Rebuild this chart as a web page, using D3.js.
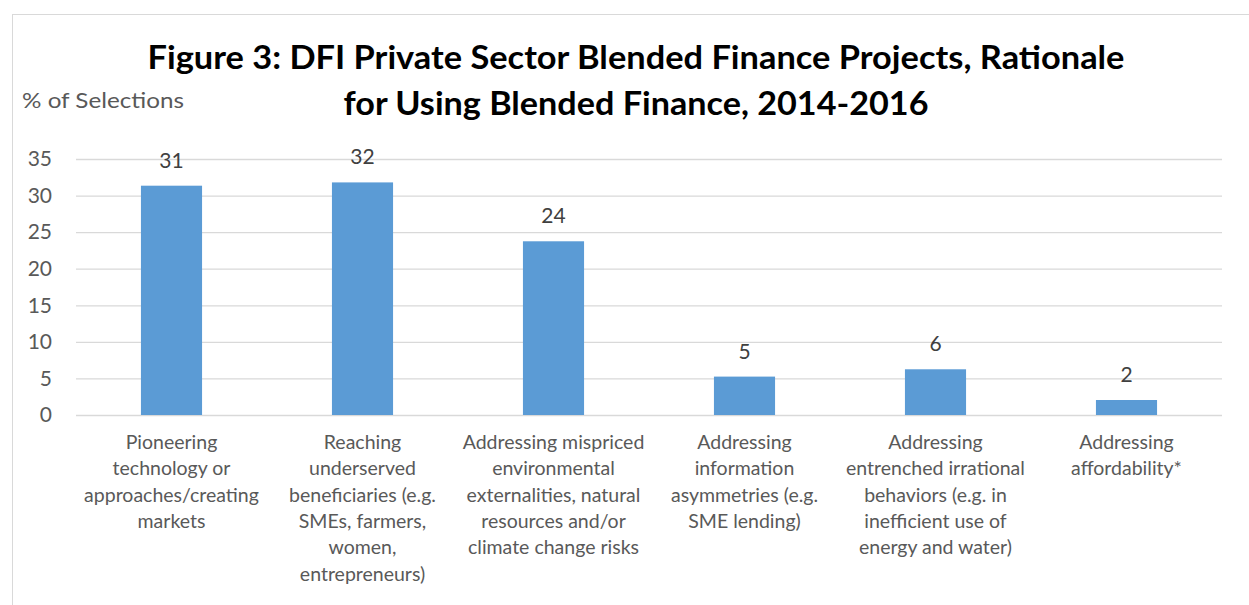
<!DOCTYPE html>
<html>
<head>
<meta charset="utf-8">
<script src="https://cdn.jsdelivr.net/npm/d3@7"></script>
<style>
  html, body { margin: 0; padding: 0; background: #fff; }
  svg { display: block; }
</style>
</head>
<body>
<svg id="chart" width="1249" height="605"></svg>
<script>
// ---- data ----
const categories = [
  "Pioneering technology or approaches/creating markets",
  "Reaching underserved beneficiaries (e.g. SMEs, farmers, women, entrepreneurs)",
  "Addressing mispriced environmental externalities, natural resources and/or climate change risks",
  "Addressing information asymmetries (e.g. SME lending)",
  "Addressing entrenched irrational behaviors (e.g. in inefficient use of energy and water)",
  "Addressing affordability*"
];
const categoryLines = [
  ["Pioneering", "technology or", "approaches/creating", "markets"],
  ["Reaching", "underserved", "beneficiaries (e.g.", "SMEs, farmers,", "women,", "entrepreneurs)"],
  ["Addressing mispriced", "environmental", "externalities, natural", "resources and/or", "climate change risks"],
  ["Addressing", "information", "asymmetries (e.g.", "SME lending)"],
  ["Addressing", "entrenched irrational", "behaviors (e.g. in", "inefficient use of", "energy and water)"],
  ["Addressing", "affordability*"]
];
const values = [31.35, 31.8, 23.75, 5.25, 6.25, 2.05];
const valueLabels = ["31", "32", "24", "5", "6", "2"];
const yTicks = [0, 5, 10, 15, 20, 25, 30, 35];
const titleLines = ["Figure 3: DFI Private Sector Blended Finance Projects, Rationale",
                    "for Using Blended Finance, 2014-2016"];
const yAxisTitle = "% of Selections";

// ---- layout ----
const svg = d3.select("#chart");
const plot = { left: 76, right: 1222, top: 159, bottom: 415 };
const FONT = "Lato, 'Open Sans', 'Liberation Sans', sans-serif";

// chart border
svg.append("rect")
  .attr("x", 12.5).attr("y", 14.5)
  .attr("width", 1260).attr("height", 620)
  .attr("fill", "#fff").attr("stroke", "#d9d9d9").attr("stroke-width", 1);

const x = d3.scaleBand()
  .domain(categories)
  .range([plot.left, plot.right])
  .paddingInner(0.68)
  .paddingOuter(0.34);
const xCat = d3.scaleBand().domain(categories).range([plot.left, plot.right]);

const y = d3.scaleLinear().domain([0, 35]).range([plot.bottom, plot.top]);

// gridlines + y tick labels via axis
const yAxis = d3.axisLeft(y)
  .tickValues(yTicks)
  .tickSize(-(plot.right - plot.left))
  .tickPadding(24)
  .tickFormat(d3.format("d"));
const gy = svg.append("g")
  .attr("transform", `translate(${plot.left},0)`)
  .call(yAxis);
gy.select(".domain").remove();
gy.selectAll(".tick line").attr("stroke", "#d9d9d9").attr("stroke-width", 1.3);
gy.selectAll(".tick text")
  .attr("fill", "#595959")
  .style("font-family", FONT)
  .style("font-size", "21px");

// bars
svg.append("g").selectAll("rect")
  .data(categories)
  .join("rect")
  .attr("x", d => x(d))
  .attr("width", x.bandwidth())
  .attr("y", (d, i) => y(values[i]))
  .attr("height", (d, i) => y(0) - y(values[i]))
  .attr("fill", "#5b9bd5");

// value labels
svg.append("g").selectAll("text")
  .data(categories)
  .join("text")
  .attr("x", d => x(d) + x.bandwidth() / 2)
  .attr("y", (d, i) => y(values[i]) - 18)
  .attr("text-anchor", "middle")
  .attr("fill", "#404040")
  .style("font-family", FONT)
  .style("font-size", "21px")
  .text((d, i) => valueLabels[i]);

// category labels
const cat = svg.append("g").selectAll("text")
  .data(categories)
  .join("text")
  .attr("text-anchor", "middle")
  .attr("fill", "#595959")
  .style("font-family", FONT)
  .style("font-size", "19.5px");
cat.each(function(d, i) {
  const cx = xCat(d) + xCat.bandwidth() / 2;
  d3.select(this).selectAll("tspan")
    .data(categoryLines[i])
    .join("tspan")
    .attr("x", cx)
    .attr("y", (l, j) => 449 + j * 26.3)
    .text(l => l);
});

// y axis title
svg.append("text")
  .attr("x", 22).attr("y", 108)
  .attr("fill", "#595959")
  .style("font-family", FONT)
  .style("font-size", "22px")
  .attr("textLength", 162)
  .attr("lengthAdjust", "spacingAndGlyphs")
  .text(yAxisTitle);

// chart title
const titleX = [636, 636];
const titleY = [69, 115];
const titleW = [977, 585];
svg.append("g").selectAll("text")
  .data(titleLines)
  .join("text")
  .attr("x", (d, i) => titleX[i])
  .attr("y", (d, i) => titleY[i])
  .attr("text-anchor", "middle")
  .attr("fill", "#000")
  .style("font-family", FONT)
  .style("font-weight", "bold")
  .style("font-size", "32px")
  .attr("textLength", (d, i) => titleW[i])
  .attr("lengthAdjust", "spacingAndGlyphs")
  .text(d => d);
</script>
</body>
</html>
